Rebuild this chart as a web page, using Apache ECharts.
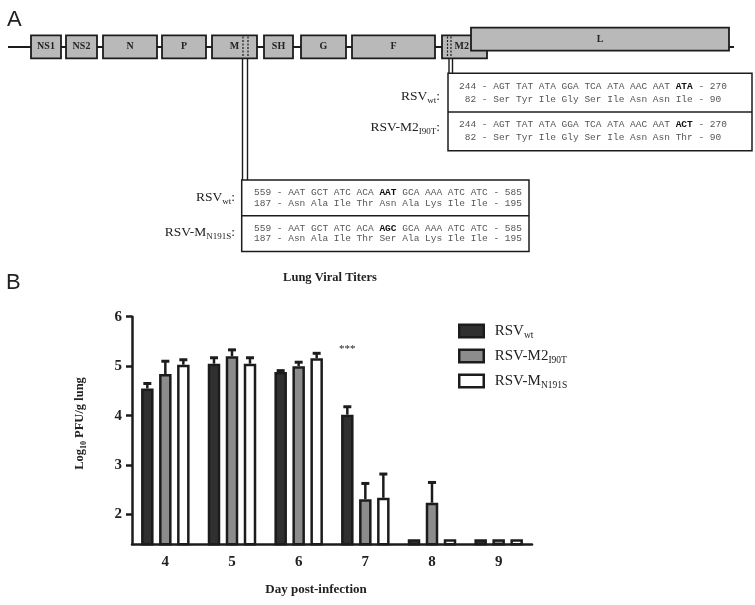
<!DOCTYPE html>
<html><head><meta charset="utf-8">
<script src="https://cdn.jsdelivr.net/npm/echarts@6/dist/echarts.min.js"></script>
<style>html,body{margin:0;padding:0;background:#fff}#c{width:755px;height:605px}</style>
</head><body><div id="c"></div>
<script>
// ---------- Panel B data ----------
const days = ['4', '5', '6', '7', '8', '9'];
const wtMean = [4.55, 5.05, 4.88, 4.02, 1.5, 1.5];
const wtSem  = [0.10, 0.12, 0.03, 0.16, 0, 0];
const m2Mean = [4.84, 5.20, 5.00, 2.31, 2.24, 1.5];
const m2Sem  = [0.26, 0.13, 0.08, 0.32, 0.41, 0];
const mMean  = [5.03, 5.05, 5.16, 2.34, 1.5, 1.5];
const mSem   = [0.10, 0.12, 0.10, 0.48, 0, 0];
const yTicks = [2, 3, 4, 5, 6];
const seriesNames = ['RSV_wt', 'RSV-M2_I90T', 'RSV-M_N191S'];
const sigDay = '7';
const sigValue = 5.34;
const sigText = '***';

// ---------- Panel A gene map (diagram units along the genome track) ----------
const geneNames = ['NS1', 'NS2', 'N', 'P', 'M', 'SH', 'G', 'F', 'M2', 'L'];
const geneStart = [31, 66, 103, 162, 212, 264, 301, 352, 442, 471];
const geneEnd   = [61, 97, 157, 206, 257, 293, 346, 435, 487, 729];
const geneLevel = [0, 0, 0, 0, 0, 0, 0, 0, 0, 1];

// sequence annotation texts
const m2Rows = [
  { label: ['RSV', 'wt'], nt: ['244 - AGT TAT ATA GGA TCA ATA AAC AAT ', 'ATA', ' - 270'], aa: ' 82 - Ser Tyr Ile Gly Ser Ile Asn Asn Ile - 90' },
  { label: ['RSV-M2', 'I90T'], nt: ['244 - AGT TAT ATA GGA TCA ATA AAC AAT ', 'ACT', ' - 270'], aa: ' 82 - Ser Tyr Ile Gly Ser Ile Asn Asn Thr - 90' }
];
const mRows = [
  { label: ['RSV', 'wt'], nt: ['559 - AAT GCT ATC ACA ', 'AAT', ' GCA AAA ATC ATC - 585'], aa: '187 - Asn Ala Ile Thr Asn Ala Lys Ile Ile - 195' },
  { label: ['RSV-M', 'N191S'], nt: ['559 - AAT GCT ATC ACA ', 'AGC', ' GCA AAA ATC ATC - 585'], aa: '187 - Asn Ala Ile Thr Ser Ala Lys Ile Ile - 195' }
];

// ---------- styles ----------
const SERIF = 'Liberation Serif';
const MONO = 'Liberation Mono';
const INK = '#1c1c1c';
const barColors = ['#303030', '#8c8c8c', '#ffffff'];
const barW = 12.5, barStep = 18;

const chart = echarts.init(document.getElementById('c'), null, { renderer: 'canvas' });

function renderGene(params, api) {
  const i = params.dataIndex;
  const s = api.value(0), e = api.value(1), lvl = api.value(2);
  const top = lvl ? 27.7 : 35.3, bot = lvl ? 50.7 : 58.3;
  const p0 = api.coord([s, top]);
  const p1 = api.coord([e, bot]);
  // if the next gene overlaps this one, keep the label in the visible part
  const nextS = i + 1 < geneStart.length ? geneStart[i + 1] : Infinity;
  let lx = (p0[0] + p1[0]) / 2, align = 'center';
  if (nextS < e) { lx = api.coord([nextS, top])[0] - 2; align = 'right'; }
  return {
    type: 'group',
    children: [
      { type: 'rect', shape: { x: p0[0], y: p0[1], width: p1[0] - p0[0], height: p1[1] - p0[1] },
        style: { fill: '#b9b9b9', stroke: INK, lineWidth: 1.8 } },
      { type: 'text', style: { text: geneNames[i], x: lx, y: (p0[1] + p1[1]) / 2,
        align: align, verticalAlign: 'middle', font: 'bold 10px "' + SERIF + '"', fill: '#222' } }
    ]
  };
}

function makeErr(k, mean, sem) {
  return {
    type: 'custom', xAxisIndex: 0, yAxisIndex: 0, z: 1, silent: true,
    data: days.map((d, i) => [i, mean[i], mean[i] + sem[i]]),
    renderItem: (params, api) => {
      const i = api.value(0);
      if (api.value(2) - api.value(1) <= 0) return null;
      const base = api.coord([i, api.value(1)]);
      const top = api.coord([i, api.value(2)]);
      const x = base[0] + (k - 1) * barStep;
      return { type: 'group', children: [
        { type: 'line', shape: { x1: x, y1: base[1], x2: x, y2: top[1] }, style: { stroke: INK, lineWidth: 2.5 } },
        { type: 'line', shape: { x1: x - 4, y1: top[1], x2: x + 4, y2: top[1] }, style: { stroke: INK, lineWidth: 3 } }
      ]};
    }
  };
}

const subRich = (size, sub) => ({
  r: { fontFamily: SERIF, fontSize: size, fill: '#222', lineHeight: size + 4 },
  s: { fontFamily: SERIF, fontSize: sub, fill: '#222', lineHeight: sub + 1, verticalAlign: 'bottom' }
});

const graphics = [];
// genome line
graphics.push({ type: 'line', z: -10, shape: { x1: 8, y1: 47, x2: 734, y2: 47 }, style: { stroke: INK, lineWidth: 2 } });
// mutation dotted markers
[[243, 248], [447.5, 451]].forEach(pair => pair.forEach(x => graphics.push({
  type: 'line', z: 100, shape: { x1: x, y1: 36.5, x2: x, y2: 57.5 }, style: { stroke: INK, lineWidth: 1.2, lineDash: [2, 1.5] }
})));
// connectors
[[242.5, 180], [247.5, 180], [449, 73.3], [452.5, 73.3]].forEach(([x, y2]) => graphics.push({
  type: 'line', shape: { x1: x, y1: 58.3, x2: x, y2: y2 }, style: { stroke: INK, lineWidth: 1.4 }
}));
// sequence boxes
function seqBox(x, y, w, h, rows, textX, labelX, lineOff, labelYs) {
  graphics.push({ type: 'rect', shape: { x, y, width: w, height: h }, style: { fill: '#fff', stroke: INK, lineWidth: 1.5 } });
  graphics.push({ type: 'line', shape: { x1: x, y1: y + h / 2, x2: x + w, y2: y + h / 2 }, style: { stroke: INK, lineWidth: 1.5 } });
  rows.forEach((row, ri) => {
    const cy = y + h / 4 + ri * h / 2;
    graphics.push({ type: 'text', z: 10, style: {
      text: '{n|' + row.nt[0] + '}{b|' + row.nt[1] + '}{n|' + row.nt[2] + '}',
      x: textX, y: cy - lineOff, verticalAlign: 'middle',
      rich: { n: { fontFamily: MONO, fontSize: 9.5, fill: '#555' }, b: { fontFamily: MONO, fontSize: 9.5, fontWeight: 'bold', fill: '#111' } }
    }});
    graphics.push({ type: 'text', z: 10, style: {
      text: row.aa, x: textX, y: cy + lineOff, verticalAlign: 'middle',
      font: '9.5px "' + MONO + '"', fill: '#555'
    }});
    graphics.push({ type: 'text', z: 10, style: {
      text: '{r|' + row.label[0] + '}{s|' + row.label[1] + '}{r|:}',
      x: labelX, y: labelYs[ri], align: 'right', verticalAlign: 'middle', rich: subRich(13.5, 9)
    }});
  });
}
seqBox(448, 73.3, 304, 77.4, m2Rows, 459, 440, 6.5, [96, 127]);
seqBox(241.7, 180, 287.3, 71.5, mRows, 254, 235, 5.2, [197, 232]);

// panel letters and chart title
graphics.push({ type: 'text', style: { text: 'A', x: 7, y: 20, verticalAlign: 'middle', font: '22px "Liberation Sans"', fill: '#222' } });
graphics.push({ type: 'text', style: { text: 'B', x: 6, y: 283, verticalAlign: 'middle', font: '22px "Liberation Sans"', fill: '#222' } });
graphics.push({ type: 'text', style: { text: 'Lung Viral Titers', x: 330, y: 278, align: 'center', verticalAlign: 'middle', font: 'bold 12.5px "' + SERIF + '"', fill: '#222' } });

const legendRich = {
  r: { fontFamily: SERIF, fontSize: 15, color: '#222', lineHeight: 18, padding: [0, 0, 0, 6] },
  s: { fontFamily: SERIF, fontSize: 9.5, color: '#222', lineHeight: 10, verticalAlign: 'bottom' }
};

const option = {
  backgroundColor: '#fff',
  animation: false,
  graphic: graphics,
  legend: {
    data: seriesNames,
    orient: 'vertical', left: 453, top: 318.5, itemWidth: 24.5, itemHeight: 12.5, itemGap: 8.5,
    icon: 'rect',
    itemStyle: { borderColor: INK, borderWidth: 2.5 },
    formatter: name => { const [a, b] = name.split('_'); return '{r|' + a + '}{s|' + b + '}'; },
    textStyle: { rich: legendRich }
  },
  grid: [
    { left: 132, top: 316.7, width: 400, height: 227.6 },
    { left: 0, top: 0, width: 755, height: 605 }
  ],
  xAxis: [
    { type: 'category', data: days, gridIndex: 0,
      axisLine: { lineStyle: { color: INK, width: 2.5 } },
      axisTick: { alignWithLabel: true, length: 6, lineStyle: { color: INK, width: 2.5 } },
      axisLabel: { margin: 10, fontFamily: SERIF, fontWeight: 'bold', fontSize: 15, color: '#222' },
      name: 'Day post-infection', nameLocation: 'middle', nameGap: 39,
      nameTextStyle: { fontFamily: SERIF, fontWeight: 'bold', fontSize: 13, color: '#222', padding: [0, 32, 0, 0] }
    },
    { type: 'value', gridIndex: 1, min: 0, max: 755, show: false }
  ],
  yAxis: [
    { type: 'value', gridIndex: 0, min: 1.4, max: 6,
      splitLine: { show: false },
      axisLine: { show: true, lineStyle: { color: INK, width: 2.5 } },
      axisTick: { show: true, length: 6, lineStyle: { color: INK, width: 2.5 }, customValues: yTicks },
      axisLabel: { margin: 10, fontFamily: SERIF, fontWeight: 'bold', fontSize: 15, color: '#222', customValues: yTicks },
      name: '{b|Log}{s|10}{b| PFU/g lung}', nameLocation: 'middle', nameGap: 44, nameRotate: 90,
      nameTextStyle: { padding: [0, 0, 0, 14], rich: {
        b: { fontFamily: SERIF, fontWeight: 'bold', fontSize: 12.5, color: '#222', lineHeight: 16 },
        s: { fontFamily: SERIF, fontWeight: 'bold', fontSize: 8, color: '#222', lineHeight: 9, verticalAlign: 'bottom' }
      } }
    },
    { type: 'value', gridIndex: 1, min: 0, max: 605, inverse: true, show: false }
  ],
  series: [
    { type: 'custom', xAxisIndex: 1, yAxisIndex: 1, silent: true, z: 2,
      data: geneNames.map((n, i) => [geneStart[i], geneEnd[i], geneLevel[i]]),
      renderItem: renderGene },
    { name: seriesNames[0], type: 'bar', data: wtMean, barWidth: barW, barGap: '44%', z: 3,
      itemStyle: { color: barColors[0], borderColor: INK, borderWidth: 2.5 },
      markPoint: { symbol: 'circle', symbolSize: 0.01, silent: true,
        label: { show: true, position: 'inside', formatter: sigText, fontFamily: SERIF, fontSize: 11, color: '#222' },
        data: [{ coord: [sigDay, sigValue] }] } },
    { name: seriesNames[1], type: 'bar', data: m2Mean, barWidth: barW, barGap: '44%', z: 3,
      itemStyle: { color: barColors[1], borderColor: INK, borderWidth: 2.5 } },
    { name: seriesNames[2], type: 'bar', data: mMean, barWidth: barW, barGap: '44%', z: 3,
      itemStyle: { color: barColors[2], borderColor: INK, borderWidth: 2.5 } },
    makeErr(0, wtMean, wtSem),
    makeErr(1, m2Mean, m2Sem),
    makeErr(2, mMean, mSem)
  ]
};
chart.setOption(option);
</script>
</body></html>
